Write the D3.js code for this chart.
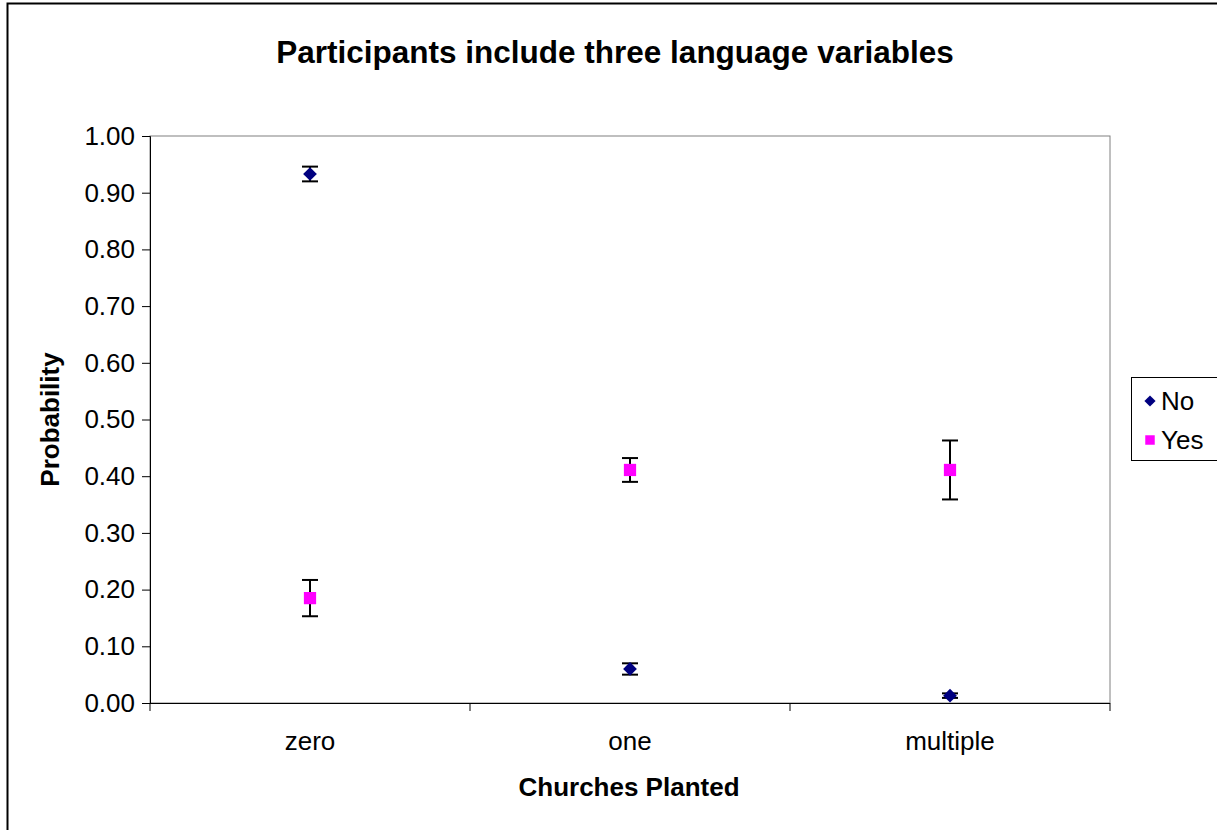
<!DOCTYPE html>
<html>
<head>
<meta charset="utf-8">
<script src="https://cdn.jsdelivr.net/npm/d3@7"></script>
<style>
  body { margin: 0; background: #fff; }
  text { font-family: "Liberation Sans", Arial, sans-serif; }
</style>
</head>
<body>
<div id="chart"></div>
<script>
var categories = ["zero", "one", "multiple"];
var seriesNames = ["No", "Yes"];
var noValues = [0.933, 0.060, 0.013];
var noErrors = [0.013, 0.010, 0.004];
var yesValues = [0.185, 0.411, 0.411];
var yesErrors = [0.032, 0.021, 0.052];
var yTicks = [0, 0.1, 0.2, 0.3, 0.4, 0.5, 0.6, 0.7, 0.8, 0.9, 1.0];

var W = 1217, H = 830;
var plot = { left: 150, top: 136, right: 1110, bottom: 703 };

var svg = d3.select("#chart").append("svg")
  .attr("width", W)
  .attr("height", H);

// outer chart border
svg.append("rect")
  .attr("x", 7.5).attr("y", 3.5)
  .attr("width", W + 10).attr("height", H + 10)
  .attr("fill", "#fff")
  .attr("stroke", "#000").attr("stroke-width", 2);

var x = d3.scaleBand()
  .domain(categories)
  .range([plot.left, plot.right]);

var y = d3.scaleLinear()
  .domain([0, 1])
  .range([plot.bottom, plot.top]);

// plot frame (grey top/right)
svg.append("rect")
  .attr("x", plot.left).attr("y", plot.top)
  .attr("width", plot.right - plot.left).attr("height", plot.bottom - plot.top)
  .attr("fill", "none")
  .attr("stroke", "#808080").attr("stroke-width", 1);

// y axis
var yAxis = svg.append("g")
  .attr("transform", "translate(" + plot.left + ",0)")
  .call(d3.axisLeft(y).tickValues(yTicks).tickFormat(d3.format(".2f")).tickSize(8).tickPadding(7));
yAxis.selectAll("text").attr("font-size", 26).attr("fill", "#000").style("font-family", "Liberation Sans, Arial, sans-serif");
yAxis.selectAll("line,path").attr("stroke", "#000");

// x axis with ticks at category boundaries
var xAxisG = svg.append("g")
  .attr("transform", "translate(0," + plot.bottom + ")");
xAxisG.append("line")
  .attr("x1", plot.left).attr("x2", plot.right)
  .attr("y1", 0.5).attr("y2", 0.5)
  .attr("stroke", "#000");
var bounds = categories.map(function(c){ return x(c); }).concat([plot.right]);
xAxisG.selectAll(".xtick").data(bounds).enter().append("line")
  .attr("x1", function(d){ return d; }).attr("x2", function(d){ return d; })
  .attr("y1", 0).attr("y2", 8)
  .attr("stroke", "#000");
xAxisG.selectAll(".xlabel").data(categories).enter().append("text")
  .attr("x", function(d){ return x(d) + x.bandwidth() / 2; })
  .attr("y", 47)
  .attr("text-anchor", "middle")
  .attr("font-size", 26)
  .text(function(d){ return d; });

// titles
svg.append("text")
  .attr("x", 615).attr("y", 63)
  .attr("text-anchor", "middle")
  .attr("font-size", 31.5).attr("font-weight", "bold")
  .text("Participants include three language variables");

svg.append("text")
  .attr("x", 629).attr("y", 796)
  .attr("text-anchor", "middle")
  .attr("font-size", 26).attr("font-weight", "bold")
  .text("Churches Planted");

svg.append("text")
  .attr("transform", "translate(59," + ((plot.top + plot.bottom) / 2) + ") rotate(-90)")
  .attr("text-anchor", "middle")
  .attr("font-size", 26).attr("font-weight", "bold")
  .text("Probability");

// series
var series = [
  { name: "No", values: noValues, errors: noErrors, color: "#000080", shape: d3.symbolDiamond2, size: 120 },
  { name: "Yes", values: yesValues, errors: yesErrors, color: "#FF00FF", shape: d3.symbolSquare, size: 150 }
];

series.forEach(function(s){
  var g = svg.append("g");
  var pts = categories.map(function(c, i){ return { cat: c, v: s.values[i], e: s.errors[i] }; });
  var cx = function(d){ return x(d.cat) + x.bandwidth() / 2; };

  g.selectAll(".err").data(pts).enter().append("line")
    .attr("x1", cx).attr("x2", cx)
    .attr("y1", function(d){ return y(d.v + d.e); })
    .attr("y2", function(d){ return y(d.v - d.e); })
    .attr("stroke", "#000").attr("stroke-width", 2);
  [1, -1].forEach(function(sign){
    g.selectAll(".cap" + sign).data(pts).enter().append("line")
      .attr("x1", function(d){ return cx(d) - 8; })
      .attr("x2", function(d){ return cx(d) + 8; })
      .attr("y1", function(d){ return y(d.v + sign * d.e); })
      .attr("y2", function(d){ return y(d.v + sign * d.e); })
      .attr("stroke", "#000").attr("stroke-width", 2);
  });

  g.selectAll(".pt").data(pts).enter().append("path")
    .attr("d", d3.symbol().type(s.shape).size(s.size))
    .attr("transform", function(d){ return "translate(" + cx(d) + "," + y(d.v) + ")"; })
    .attr("fill", s.color);
});

// legend
var legend = svg.append("g");
legend.append("rect")
  .attr("x", 1131.5).attr("y", 377.5)
  .attr("width", 86).attr("height", 83)
  .attr("fill", "#fff").attr("stroke", "#000").attr("stroke-width", 1);
series.forEach(function(s, i){
  var ly = 401 + i * 39;
  legend.append("path")
    .attr("d", d3.symbol().type(s.shape).size(s.name === "No" ? 80 : 90))
    .attr("transform", "translate(1150," + ly + ")")
    .attr("fill", s.color);
  legend.append("text")
    .attr("x", 1161).attr("y", ly + 9)
    .attr("font-size", 26)
    .text(s.name);
});
</script>
</body>
</html>
